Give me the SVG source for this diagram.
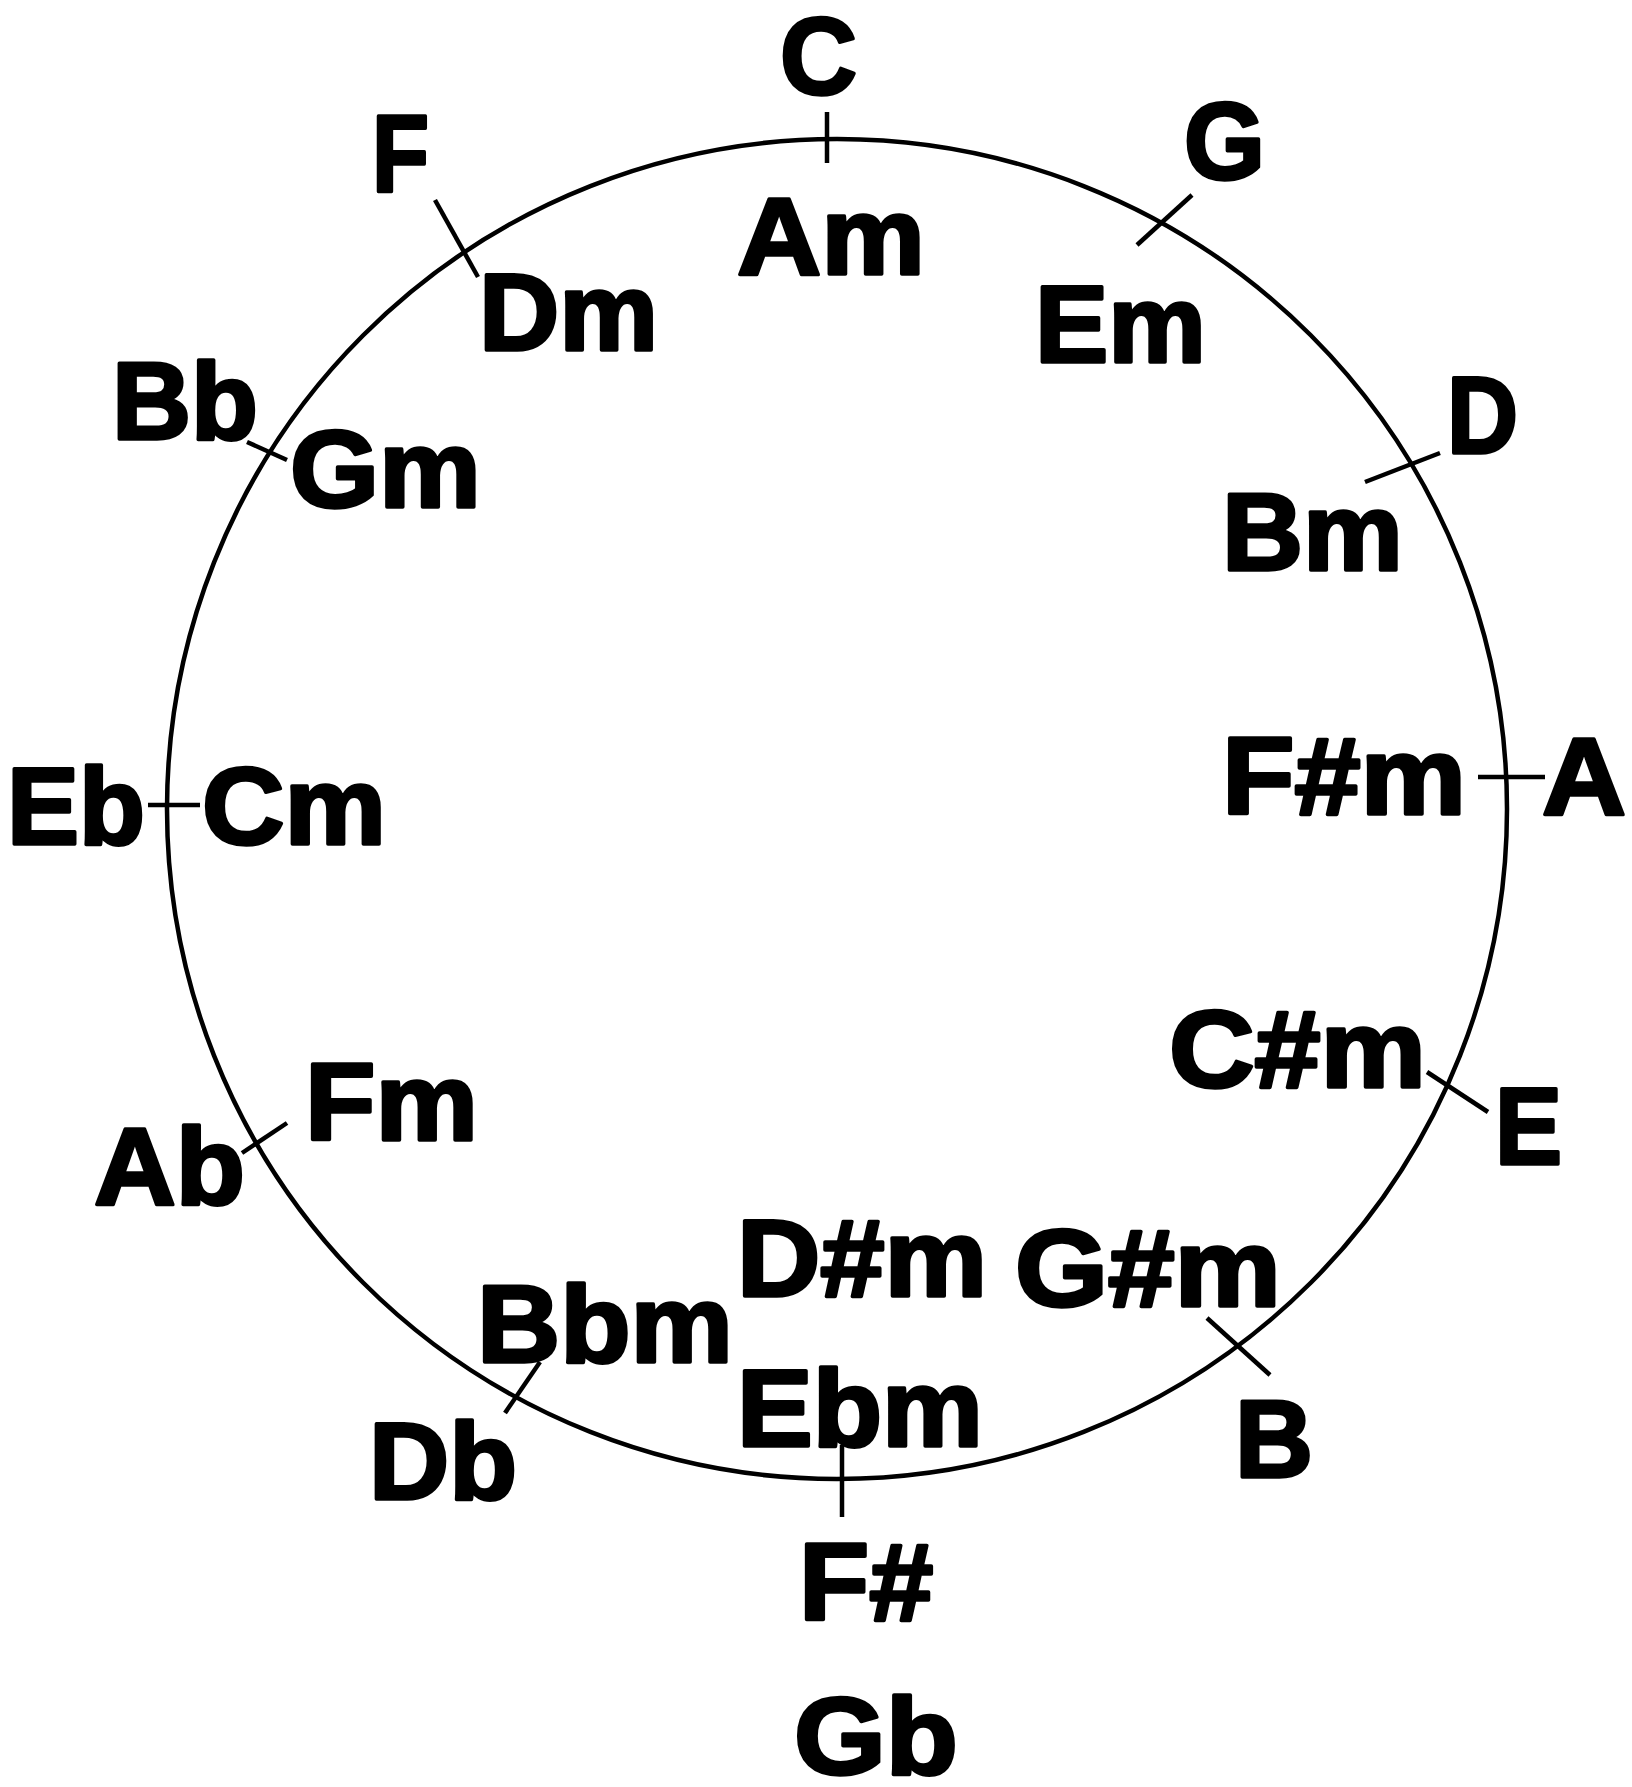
<svg xmlns="http://www.w3.org/2000/svg" width="1632" height="1787" viewBox="0 0 1632 1787">
<style>
.lbl{font-family:"Liberation Sans",Arial,sans-serif;font-weight:bold;font-size:109px;fill:#000;stroke:#000;stroke-width:3.5;stroke-linejoin:round}
.ln{fill:none;stroke:#000;stroke-width:4.5}
</style>
<rect width="1632" height="1787" fill="#fff"/>
<g id="connectors">
<circle class="ln" cx="837" cy="809" r="670"/>
<line class="ln" x1="827" y1="112" x2="827" y2="163"/>
<line class="ln" x1="1137" y1="245" x2="1192" y2="195"/>
<line class="ln" x1="1365" y1="482" x2="1440" y2="453"/>
<line class="ln" x1="1478" y1="777" x2="1545" y2="777"/>
<line class="ln" x1="1427" y1="1072" x2="1488" y2="1112"/>
<line class="ln" x1="1207" y1="1318" x2="1270" y2="1375"/>
<line class="ln" x1="842" y1="1445" x2="842" y2="1517"/>
<line class="ln" x1="540" y1="1362" x2="505" y2="1413"/>
<line class="ln" x1="287" y1="1123" x2="242" y2="1153"/>
<line class="ln" x1="148" y1="805" x2="200" y2="805"/>
<line class="ln" x1="247" y1="442" x2="287" y2="460"/>
<line class="ln" x1="435" y1="200" x2="478" y2="277"/>
</g>
<g id="node-C"><text class="lbl" x="780" y="94" textLength="77" lengthAdjust="spacingAndGlyphs">C</text><text class="lbl" x="737" y="274" textLength="188" lengthAdjust="spacingAndGlyphs">Am</text></g>
<g id="node-G"><text class="lbl" x="1184" y="179" textLength="81" lengthAdjust="spacingAndGlyphs">G</text><text class="lbl" x="1035" y="362" textLength="171" lengthAdjust="spacingAndGlyphs">Em</text></g>
<g id="node-D"><text class="lbl" x="1447" y="453" textLength="71" lengthAdjust="spacingAndGlyphs">D</text><text class="lbl" x="1222" y="570" textLength="181" lengthAdjust="spacingAndGlyphs">Bm</text></g>
<g id="node-A"><text class="lbl" x="1542" y="814" textLength="84" lengthAdjust="spacingAndGlyphs">A</text><text class="lbl" x="1222" y="814" textLength="244" lengthAdjust="spacingAndGlyphs">F#m</text></g>
<g id="node-E"><text class="lbl" x="1495" y="1164" textLength="67" lengthAdjust="spacingAndGlyphs">E</text><text class="lbl" x="1169" y="1087" textLength="257" lengthAdjust="spacingAndGlyphs">C#m</text></g>
<g id="node-B"><text class="lbl" x="1235" y="1477" textLength="78" lengthAdjust="spacingAndGlyphs">B</text><text class="lbl" x="1015" y="1306" textLength="266" lengthAdjust="spacingAndGlyphs">G#m</text></g>
<g id="node-Fsharp"><text class="lbl" x="799" y="1620" textLength="134" lengthAdjust="spacingAndGlyphs">F#</text><text class="lbl" x="794" y="1774" textLength="164" lengthAdjust="spacingAndGlyphs">Gb</text><text class="lbl" x="737" y="1446" textLength="246" lengthAdjust="spacingAndGlyphs">Ebm</text><text class="lbl" x="737" y="1296" textLength="250" lengthAdjust="spacingAndGlyphs">D#m</text></g>
<g id="node-Db"><text class="lbl" x="369" y="1499" textLength="148" lengthAdjust="spacingAndGlyphs">Db</text><text class="lbl" x="477" y="1362" textLength="256" lengthAdjust="spacingAndGlyphs">Bbm</text></g>
<g id="node-Ab"><text class="lbl" x="94" y="1204" textLength="151" lengthAdjust="spacingAndGlyphs">Ab</text><text class="lbl" x="305" y="1140" textLength="173" lengthAdjust="spacingAndGlyphs">Fm</text></g>
<g id="node-Eb"><text class="lbl" x="7" y="844" textLength="138" lengthAdjust="spacingAndGlyphs">Eb</text><text class="lbl" x="202" y="844" textLength="184" lengthAdjust="spacingAndGlyphs">Cm</text></g>
<g id="node-Bb"><text class="lbl" x="112" y="439" textLength="146" lengthAdjust="spacingAndGlyphs">Bb</text><text class="lbl" x="290" y="507" textLength="191" lengthAdjust="spacingAndGlyphs">Gm</text></g>
<g id="node-F"><text class="lbl" x="372" y="192" textLength="57" lengthAdjust="spacingAndGlyphs">F</text><text class="lbl" x="479" y="350" textLength="179" lengthAdjust="spacingAndGlyphs">Dm</text></g>
</svg>
